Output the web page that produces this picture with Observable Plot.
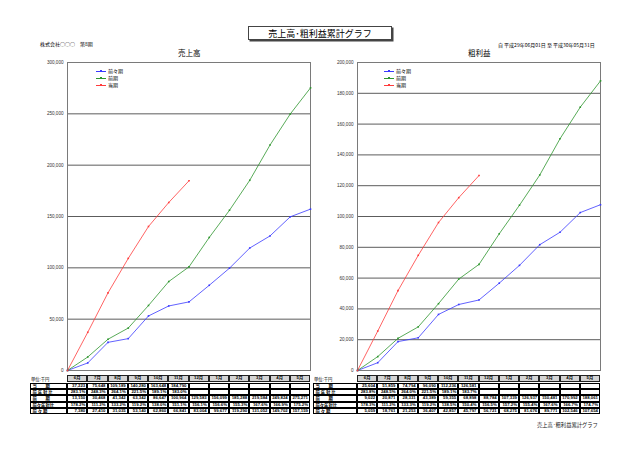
<!DOCTYPE html>
<html><head><meta charset="utf-8">
<script src="https://cdn.jsdelivr.net/npm/d3@7"></script>
<script src="https://cdn.jsdelivr.net/npm/@observablehq/plot@0.6"></script>
<style>
body{margin:0;background:#fff;}
#page{position:relative;width:640px;height:453px;overflow:hidden;font-family:"Noto Sans CJK JP","Liberation Sans",sans-serif;color:#000;}
.t{position:absolute;white-space:nowrap;line-height:1;}
.c{position:absolute;box-sizing:border-box;font-size:4.3px;line-height:1;display:flex;align-items:center;justify-content:center;white-space:nowrap;font-family:"Liberation Sans","Noto Sans CJK JP",sans-serif;}
.svgwrap{position:absolute;}
</style></head>
<body><div id="page"></div>
<script>
// ---- data ----
const months = ["6月","7月","8月","9月","10月","11月","12月","1月","2月","3月","4月","5月"];
const seriesNames = ["前々期","前期","当期"];
const rowLabels = ["当　　期","前 年 対 比","前　　期","前々年対比","前 々 期"];

const salesCur   = [37223, 75648, 109189, 140280, 163648, 184790];
const salesPrev  = [13150, 30468, 41342, 63342, 86647, 100964, 129583, 156099, 185288, 219584, 249824, 275271];
const salesPrev2 = [7380, 27410, 31035, 53140, 62860, 66841, 83004, 99677, 119290, 131052, 149702, 157159];
const salesYoY   = ["283.1%","248.3%","264.1%","221.5%","189.1%","183.0%"];
const salesYoY2  = ["178.2%","111.2%","133.2%","119.2%","138.0%","151.1%","156.1%","156.6%","155.3%","167.6%","166.9%","175.2%"];

const gpCur   = [25604, 51859, 74794, 96090, 112236, 126581];
const gpPrev  = [9022, 20871, 28331, 43389, 59355, 68898, 88784, 107339, 126937, 150481, 170992, 188061];
const gpPrev2 = [5059, 18761, 21253, 36407, 42857, 45797, 56721, 68275, 81676, 89771, 102546, 107654];
const gpYoY   = ["283.8%","248.5%","264.0%","221.5%","189.1%","183.7%"];
const gpYoY2  = ["178.3%","111.2%","133.3%","119.2%","138.5%","150.4%","156.5%","157.2%","155.4%","167.6%","166.7%","174.7%"];

const colors = ["#3a3aff","#2e962e","#ff3c3c"];

const page = document.getElementById("page");
function text(s, x, y, size, opts={}) {
  const d = document.createElement("div");
  d.className = "t"; d.textContent = s;
  d.style.left = x + "px"; d.style.top = y + "px"; d.style.fontSize = size + "px";
  Object.assign(d.style, opts);
  page.appendChild(d); return d;
}

function makeRows(cur, prev, prev2) {
  const rows = [];
  [prev2, prev, cur].forEach((arr, k) => {
    rows.push({s: seriesNames[k], i: 0, v: 0});
    arr.forEach((v, j) => rows.push({s: seriesNames[k], i: j + 1, v}));
  });
  return rows;
}

function chart(rows, yMax, yStep, width, mL, mR) {
  return Plot.plot({
    width, height: 330,
    marginLeft: mL, marginRight: mR, marginTop: 12, marginBottom: 330 - 12 - 308,
    x: {domain: [0, 12], axis: null},
    y: {domain: [0, yMax], ticks: d3.range(0, yMax + 1, yStep), tickFormat: d3.format(","), label: null, axis: null},
    color: {domain: seriesNames, range: colors},
    style: {fontFamily: "'Liberation Sans', sans-serif", fontSize: "4.6px", background: "transparent", overflow: "visible"},
    marks: [
      Plot.gridY(d3.range(yStep, yMax, yStep), {stroke: "#4a4a4a", strokeOpacity: 1, strokeWidth: 0.9}),
      Plot.frame({stroke: "#7a7a7a", strokeWidth: 1}),
      Plot.axisY(d3.range(0, yMax + 1, yStep), {tickSize: 0, tickPadding: 4, tickFormat: d3.format(","), fill: "#333", label: null}),
      Plot.line(rows, {x: "i", y: "v", z: "s", stroke: "s", strokeWidth: 0.8}),
      Plot.dot(rows, {x: "i", y: "v", fill: "s", r: 0.9, symbol: "square"})
    ]
  });
}

function place(svg, left, top) {
  const w = document.createElement("div");
  w.className = "svgwrap"; w.style.left = left + "px"; w.style.top = top + "px";
  w.appendChild(svg); page.appendChild(w);
}

function legend(x, y) {
  seriesNames.forEach((name, k) => {
    const yy = y + k * 7;
    const ln = document.createElement("div");
    ln.style.cssText = `position:absolute;left:${x}px;top:${yy}px;width:10px;height:0.8px;background:${colors[k]}`;
    page.appendChild(ln);
    const dt = document.createElement("div");
    dt.style.cssText = `position:absolute;left:${x + 4}px;top:${yy - 0.7}px;width:2px;height:2px;background:${colors[k]}`;
    page.appendChild(dt);
    text(name, x + 12, yy - 2.6, 5);
  });
}

function table(xs, labelLeft, cur, yoy, prev, yoy2, prev2) {
  const top = 375, hH = 7, rTop = 383, rH = 6.2;
  const fmt = d3.format(",");
  // unit label
  text("単位:千円", labelLeft + 1, top + 1.5, 4.3);
  months.forEach((m, j) => {
    const c = document.createElement("div");
    c.className = "c"; c.textContent = m;
    c.style.cssText += `left:${xs[j]}px;top:${top}px;width:${xs[j+1]-xs[j]}px;height:${hH}px;background:#d4d4d4;border:0.8px solid #222;font-weight:bold;`;
    page.appendChild(c);
  });
  const data = [cur.map(fmt), yoy, prev.map(fmt), yoy2, prev2.map(fmt)];
  data.forEach((row, r) => {
    const y = rTop + r * rH;
    const lc = document.createElement("div");
    lc.className = "c"; lc.textContent = rowLabels[r];
    lc.style.cssText += `left:${labelLeft}px;top:${y}px;width:${xs[0]-labelLeft}px;height:${rH}px;border:0.7px solid #000;justify-content:flex-start;padding-left:1.5px;font-weight:bold;font-family:'Noto Sans CJK JP',sans-serif;`;
    page.appendChild(lc);
    months.forEach((m, j) => {
      const c = document.createElement("div");
      c.className = "c"; c.textContent = row[j] !== undefined ? row[j] : "";
      c.style.cssText += `left:${xs[j]}px;top:${y}px;width:${xs[j+1]-xs[j]}px;height:${rH}px;border:0.7px solid #000;justify-content:flex-end;padding-right:1px;font-weight:bold;`;
      page.appendChild(c);
    });
  });
  // outer thick border
  const ob = document.createElement("div");
  ob.style.cssText = `position:absolute;left:${labelLeft}px;top:${rTop}px;width:${xs[12]-labelLeft}px;height:${5*rH}px;border:1px solid #000;box-sizing:border-box;`;
  page.appendChild(ob);
}

// ---- header texts ----
const tb = text("売上高･粗利益累計グラフ", 248, 26, 9, {width: "144px", height: "14px", border: "1px solid #444", boxShadow: "1.5px 1.5px 0 #444", textAlign: "center", lineHeight: "14px", boxSizing: "border-box"});
text("株式会社○○○　第8期", 40, 41, 5);
text("自 平成29年06月01日 至 平成30年05月31日", 498, 41.5, 5);
text("売上高", 178, 48.5, 7.5);
text("粗利益", 468, 48.5, 7.5);

// ---- charts ----
const L = chart(makeRows(salesCur, salesPrev, salesPrev2), 300000, 50000, 320, 67, 10);
place(L, 0, 50);
const R = chart(makeRows(gpCur, gpPrev, gpPrev2), 200000, 20000, 320, 37, 40);
place(R, 320, 50);

legend(96, 71);
legend(384, 71);

const lx = d3.range(13).map(i => L.scale("x").apply(i));
const rx = d3.range(13).map(i => 320 + R.scale("x").apply(i));
table(lx, 30, salesCur, salesYoY, salesPrev, salesYoY2, salesPrev2);
table(rx, 313, gpCur, gpYoY, gpPrev, gpYoY2, gpPrev2);

text("売上高･粗利益累計グラフ", 537, 422.5, 5.3, {color: "#222"});
</script>
</body></html>
